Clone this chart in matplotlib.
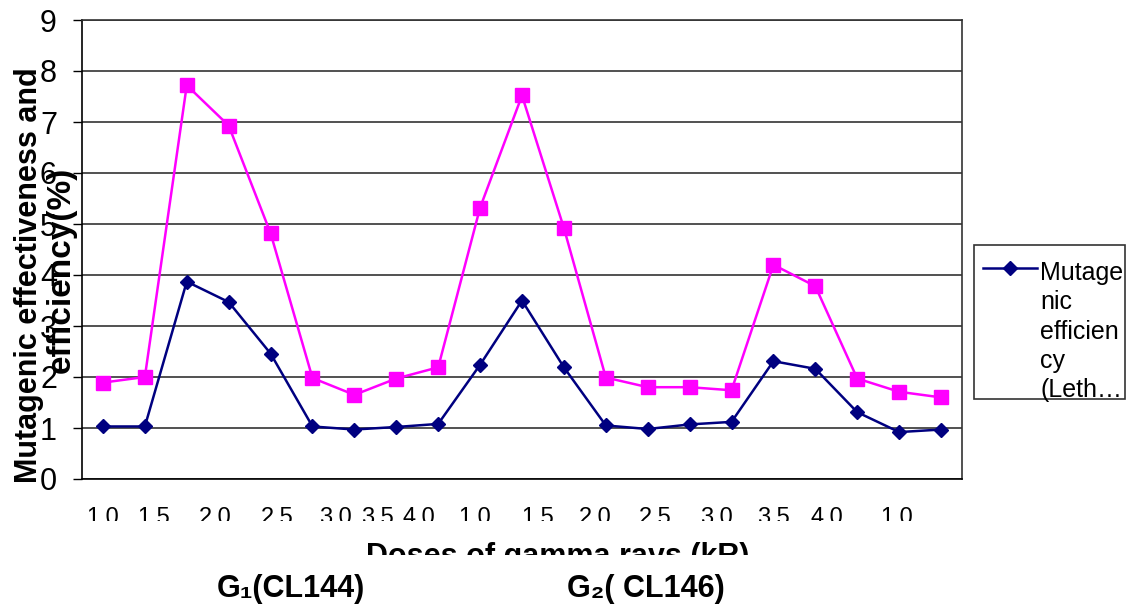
import matplotlib
matplotlib.use('Agg')
import matplotlib.pyplot as plt
from matplotlib.transforms import Bbox, TransformedBbox
from matplotlib.lines import Line2D
from matplotlib.patches import Rectangle

plt.rcParams['font.family'] = ['Liberation Sans', 'DejaVu Sans']

# values
efficiency = [1.03, 1.03, 3.87, 3.47, 2.46, 1.03, 0.97, 1.02, 1.08, 2.24, 3.50,
              2.19, 1.05, 0.98, 1.07, 1.12, 2.31, 2.16, 1.31, 0.92, 0.97]
effectiveness = [1.89, 2.00, 7.72, 6.93, 4.82, 1.98, 1.65, 1.97, 2.19, 5.32, 7.52,
                 4.92, 1.99, 1.80, 1.80, 1.74, 4.20, 3.78, 1.97, 1.71, 1.60]
dose_labels = ['1.0', '1.5', '2.0', '2.5', '3.0', '3.5', '4.0', '1.0',
               '1.5', '2.0', '2.5', '3.0', '3.5', '4.0', '1.0']
# the labels don't line up with the points in the original
label_pos = [0.0, 1.22, 2.67, 4.15, 5.54, 6.54, 7.54, 8.88,
             10.38, 11.74, 13.17, 14.65, 15.99, 17.28, 18.95]
legend_text = 'Mutage\nnic\nefficien\ncy\n(Leth\u2026'

W, H = 1142, 608
navy = '#000080'
magenta = '#FF00FF'

fig = plt.figure(figsize=(W / 100, H / 100), dpi=100)
ax = fig.add_axes([82 / W, 1 - 479 / H, 880 / W, 459 / H])

x = range(len(efficiency))
ax.plot(x, efficiency, color=navy, lw=1.8, marker='D', ms=7, zorder=3)
ax.plot(x, effectiveness, color=magenta, lw=1.8, marker='s', ms=10.5, zorder=4)

ax.set_xlim(-0.5, 20.5)
ax.set_ylim(0, 9)
ax.set_yticks(range(10))
ax.yaxis.grid(True, color='#333333', lw=1.2)
ax.set_axisbelow(True)
for s in ax.spines.values():
    s.set_color('#333333')
    s.set_linewidth(1.2)
ax.spines['left'].set_color('black')
ax.spines['bottom'].set_color('black')

ax.tick_params(axis='y', length=6.5, width=1, labelsize=22, pad=11.5)
ax.set_xticks(label_pos, dose_labels)
ax.tick_params(axis='x', length=0, labelsize=17, pad=20)

# bottom part of tick labels and x title is cut off in the original
clip_ticks = TransformedBbox(Bbox.from_extents(0, 1 - 521 / H, 1, 1), fig.transFigure)
for lab in ax.get_xticklabels():
    lab.set_clip_on(True)
    lab.set_clip_box(clip_ticks)

xt = fig.text(558 / W, 1 - 542 / H, 'Doses of gamma rays (kR)', ha='center', va='top',
              fontsize=22, fontweight='bold')
xt.set_clip_on(True)
xt.set_clip_box(TransformedBbox(Bbox.from_extents(0, 1 - 555 / H, 1, 1), fig.transFigure))

fig.text(291 / W, 1 - 589 / H, 'G\u2081(CL144)', ha='center', va='center',
         fontsize=22, fontweight='bold')
fig.text(646 / W, 1 - 589 / H, 'G\u2082( CL146)', ha='center', va='center',
         fontsize=22, fontweight='bold')

# y title: two lines, second one drawn a bit larger and overlapping the tick labels
fig.text(37 / W, 1 - 275 / H, 'Mutagenic effectiveness and', rotation=90,
         rotation_mode='anchor', ha='center', va='baseline', fontsize=22, fontweight='bold')
fig.text(70 / W, 1 - 270 / H, 'efficiency(%)', rotation=90,
         rotation_mode='anchor', ha='center', va='baseline', fontsize=24, fontweight='bold')

# legend box (only first series shows, label wrapped and cut)
fig.add_artist(Rectangle((974 / W, 1 - 399 / H), 151 / W, 154 / H, transform=fig.transFigure,
                         fill=False, ec='#333333', lw=1.2))
fig.add_artist(Line2D([983 / W, 1037 / W], [1 - 268 / H] * 2, transform=fig.transFigure,
                      color=navy, lw=1.8))
fig.add_artist(Line2D([1010 / W], [1 - 268 / H], transform=fig.transFigure,
                      color=navy, marker='D', ms=7))
fig.text(1040 / W, 1 - 261 / H, legend_text, ha='left', va='top', fontsize=18, linespacing=1.28)

fig.savefig('out.png', dpi=100)
